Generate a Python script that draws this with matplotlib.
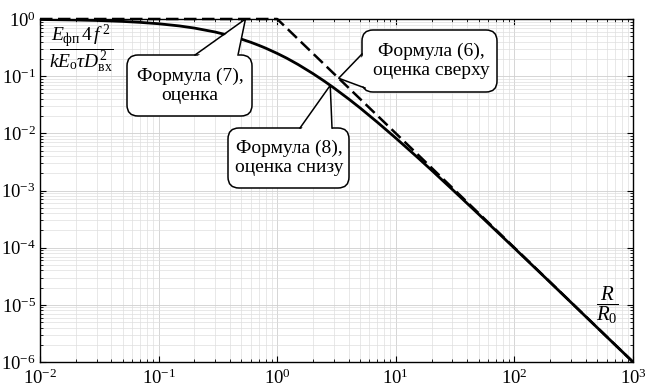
import numpy as np
import matplotlib
matplotlib.use("Agg")
import matplotlib.pyplot as plt
from matplotlib.patches import FancyBboxPatch, Polygon
from matplotlib.lines import Line2D
import matplotlib.transforms as mtransforms

plt.rcParams['font.family'] = ['Liberation Serif', 'DejaVu Serif']
plt.rcParams['mathtext.fontset'] = 'custom'
plt.rcParams['mathtext.rm'] = 'Liberation Serif'
plt.rcParams['mathtext.it'] = 'Liberation Serif:italic'
plt.rcParams['mathtext.bf'] = 'Liberation Serif:bold'

# нижняя оценка, формула (8)
r_low = [0.01, 0.02, 0.03, 0.05, 0.07, 0.1, 0.15, 0.2, 0.3, 0.4, 0.5, 0.6, 0.7, 0.8,
         1.0, 1.2, 1.5, 2.0, 2.5, 3.0, 4.0, 5.0, 7.0, 10.0, 15.0, 20.0, 30.0, 50.0,
         100.0, 200.0, 500.0, 1000.0]
e_low = [0.980, 0.961, 0.943, 0.907, 0.873, 0.826, 0.756, 0.694, 0.592, 0.510, 0.444,
         0.391, 0.346, 0.309, 0.250, 0.207, 0.160, 0.111, 0.0816, 0.0625, 0.0400,
         0.0278, 0.0156, 0.00826, 0.00391, 0.00227, 0.00104, 0.000384, 9.8e-5,
         2.48e-5, 3.98e-6, 1.0e-6]

# верхняя оценка, формула (6)/(7)
r_up = [0.01, 1.0, 1000.0]
e_up = [1.0, 1.0, 1e-6]

W, H = 645, 389
fig = plt.figure(figsize=(W / 100, H / 100), dpi=100)
ax = fig.add_axes([40 / W, 1 - 362 / H, 593 / W, 343 / H])

ax.loglog(r_low, e_low, color='black', lw=2.0, zorder=3)
ax.loglog(r_up, e_up, color='black', lw=1.8, ls=(0, (5.0, 2.2)), zorder=3, clip_on=False)

ax.set_xlim(1e-2, 1e3)
ax.set_ylim(1e-6, 1e0)
ax.set_xticks([1e-2, 1e-1, 1e0, 1e1, 1e2, 1e3])
ax.set_yticks([1e-6, 1e-5, 1e-4, 1e-3, 1e-2, 1e-1, 1e0])
ax.grid(True, which='major', color='#cfcfcf', lw=0.6)
ax.grid(True, which='minor', color='#dedede', lw=0.5)
ax.set_axisbelow(True)
ax.tick_params(which='both', direction='in', top=True, right=True, labelsize=13.5,
               colors='black')
ax.tick_params(which='major', length=4, width=0.8)
ax.tick_params(which='minor', length=2, width=0.6)
ax.tick_params(axis='x', pad=5)
ax.tick_params(axis='y', pad=3)
for s in ax.spines.values():
    s.set_linewidth(1.0)

# подписи осей внутри поля
ax.text(0.069, 0.913, r'$\dfrac{E_{\mathrm{фп}}\,4\,f^{\,2}}{kE_{\mathrm{о}}\tau D^{2}_{\mathrm{вх}}}$',
        transform=ax.transAxes, fontsize=14, ha='center', va='center', zorder=9)
ax.text(0.957, 0.166, r'$\dfrac{R}{R_{0}}$', transform=ax.transAxes,
        fontsize=15, ha='center', va='center', zorder=9)

# пиксели картинки (начало слева сверху) -> экран
px = mtransforms.Affine2D().scale(1, -1).translate(0, H)


def callout(text, box, base, tip, inward, center):
    x0, y0, x1, y1 = box
    p = FancyBboxPatch((x0, y0), x1 - x0, y1 - y0,
                       boxstyle="round,pad=0,rounding_size=11",
                       transform=px, fc='white', ec='black', lw=1.1, zorder=6)
    fig.add_artist(p)
    tx, ty = ax.transData.transform(tip)
    tx, ty = tx, H - ty
    b1, b2 = base
    fill = Polygon([(b1[0] + inward[0], b1[1] + inward[1]), (tx, ty),
                    (b2[0] + inward[0], b2[1] + inward[1])],
                   closed=True, transform=px, fc='white', ec='none', zorder=7)
    fig.add_artist(fill)
    edge = Line2D([b1[0], tx, b2[0]], [b1[1], ty, b2[1]], transform=px,
                  color='black', lw=1.1, zorder=8)
    fig.add_artist(edge)
    fig.text(center[0], center[1], text, transform=px, ha='center', va='center',
             fontsize=14, linespacing=1.15, zorder=9)


callout('Формула (7),\nоценка', (127, 55, 252, 116), [(195, 55), (238, 55)],
        (0.54, 1.0), (0, 3), (190, 86))
callout('Формула (8),\nоценка снизу', (228, 128, 349, 188), [(300, 128), (332, 128)],
        (2.8, 0.069), (0, 3), (289, 158))
callout('Формула (6),\nоценка сверху', (362, 30, 497, 92), [(362, 54), (365, 88)],
        (3.3, 0.092), (3, 0), (431, 61))

fig.savefig('out.png', dpi=100)
